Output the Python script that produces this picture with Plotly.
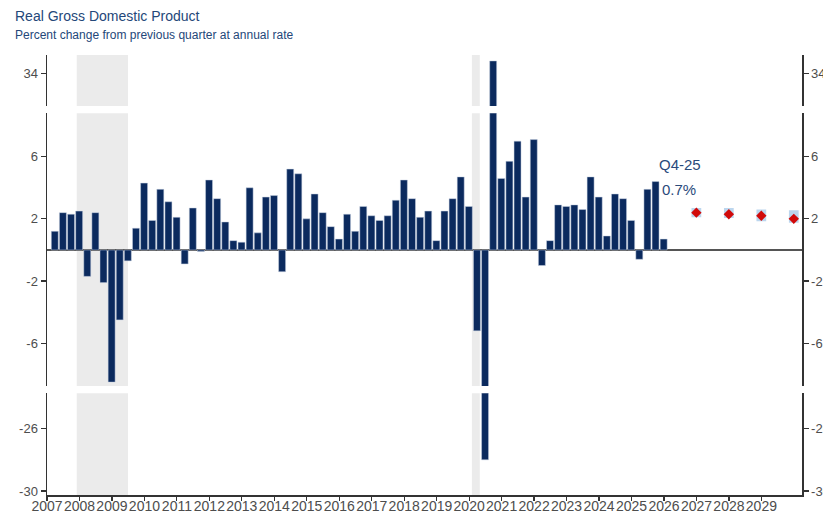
import plotly.graph_objects as go
from datetime import date

# ---------------- data ----------------
title_text = "Real Gross Domestic Product"
subtitle_text = "Percent change from previous quarter at annual rate"

years = list(range(2007, 2026))
gdp_growth = [
    1.2, 2.4, 2.3, 2.5,      # 2007
    -1.7, 2.4, -2.1, -8.5,   # 2008
    -4.5, -0.7, 1.4, 4.3,    # 2009
    1.9, 3.9, 3.1, 2.1,      # 2010
    -0.9, 2.7, -0.1, 4.5,    # 2011
    3.3, 1.8, 0.6, 0.5,      # 2012
    4.0, 1.1, 3.4, 3.5,      # 2013
    -1.4, 5.2, 4.9, 2.0,     # 2014
    3.6, 2.4, 1.5, 0.7,      # 2015
    2.3, 1.2, 2.8, 2.2,      # 2016
    1.9, 2.2, 3.2, 4.5,      # 2017
    3.3, 2.1, 2.5, 0.6,      # 2018
    2.5, 3.3, 4.7, 2.8,      # 2019
    -5.2, -28.0, 34.8, 4.6,  # 2020
    5.7, 7.0, 3.4, 7.1,      # 2021
    -1.0, 0.6, 2.9, 2.8,     # 2022
    2.9, 2.6, 4.7, 3.4,      # 2023
    0.9, 3.6, 3.3, 1.9,      # 2024
    -0.6, 3.9, 4.4, 0.7,     # 2025
]

recessions = [("2007-12-01", "2009-06-30"), ("2020-02-01", "2020-04-30")]

forecast_years = [2026, 2027, 2028, 2029]
forecast_median = [2.4, 2.3, 2.2, 2.0]
forecast_low = [2.1, 2.05, 1.85, 1.75]
forecast_high = [2.7, 2.7, 2.6, 2.55]

x_tick_years = list(range(2007, 2030))
ticks_top = [34]
ticks_mid = [-6, -2, 2, 6]
ticks_bot = [-30, -26]


# ---------------- helpers ----------------
def dec_year(s):
    d = date.fromisoformat(s)
    start = date(d.year, 1, 1)
    end = date(d.year + 1, 1, 1)
    return d.year + (d - start).days / (end - start).days


# quarter bars placed at quarter end
qx = [y + q * 0.25 - 0.01 for y in years for q in range(1, 5)]
fx = [dec_year(f"{y}-12-31") for y in forecast_years]

BAR = "#0b2a5e"
AXC = "#333333"
FONT = "Liberation Sans, Arial, sans-serif"
tick_font = dict(family=FONT, size=13, color="#4d4d4d")

rng_top = [31.9, 35.18]
rng_mid = [-8.75, 8.79]
rng_bot = [-30.26, -23.72]
dom_bot = [0.0, 0.2311]
dom_mid = [0.2477, 0.8675]
dom_top = [0.8841, 1.0]

fig = go.Figure()

for ax in ["y", "y2", "y3"]:
    fig.add_trace(go.Bar(
        x=qx, y=gdp_growth, yaxis=ax, width=0.215,
        marker=dict(color=BAR, line=dict(color="#c9d3e3", width=0.5)),
        hoverinfo="skip", showlegend=False,
    ))

fig.add_trace(go.Bar(
    x=fx, y=[h - l for h, l in zip(forecast_high, forecast_low)], base=forecast_low,
    yaxis="y2", width=0.3, marker=dict(color="#bcd6ee", line=dict(width=0)),
    hoverinfo="skip", showlegend=False,
))
fig.add_trace(go.Scatter(
    x=fx, y=forecast_median, yaxis="y2", mode="markers",
    marker=dict(symbol="diamond", size=8, color="#d10a0a", line=dict(width=0)),
    hoverinfo="skip", showlegend=False,
))

# invisible traces so the right-side axes are drawn
for ax, rng in [("y4", rng_bot), ("y5", rng_mid), ("y6", rng_top)]:
    fig.add_trace(go.Scatter(x=[qx[0]], y=[rng[0]], yaxis=ax, mode="markers",
                             marker=dict(opacity=0), hoverinfo="skip", showlegend=False))


def yax(domain, rng, ticks, side="left", overlaying=None, zero=False):
    d = dict(domain=domain, range=rng, tickvals=ticks, ticktext=[str(t) for t in ticks],
             ticks="outside", ticklen=5, tickwidth=1.2, tickcolor=AXC,
             showline=True, linecolor=AXC, linewidth=1.5, showgrid=False,
             zeroline=zero, zerolinecolor="#555555", zerolinewidth=1.5,
             tickfont=tick_font, anchor="x", side=side, fixedrange=True,
             automargin=False)
    if overlaying:
        d["overlaying"] = overlaying
    return d


shapes = []
for s, e in recessions:
    for yr in ["y domain", "y2 domain", "y3 domain"]:
        shapes.append(dict(type="rect", xref="x", yref=yr, x0=dec_year(s), x1=dec_year(e),
                           y0=0, y1=1, fillcolor="#ebebeb", line=dict(width=0), layer="below"))

last_label_q = f"Q4-{str(years[-1])[2:]}"
last_val = gdp_growth[-1]

annotations = [
    dict(text=title_text, xref="paper", yref="paper", x=-0.0446, y=1.0893,
         xanchor="left", yanchor="middle", showarrow=False,
         font=dict(family=FONT, size=14, color="#244779")),
    dict(text=subtitle_text, xref="paper", yref="paper", x=-0.0446, y=1.0455,
         xanchor="left", yanchor="middle", showarrow=False,
         font=dict(family=FONT, size=12, color="#244779")),
    dict(text=last_label_q, xref="x", yref="y2", x=qx[-1] - 0.2, y=5.47,
         xanchor="left", yanchor="middle", showarrow=False,
         font=dict(family=FONT, size=15, color="#2a4a7b")),
    dict(text=f"{last_val}%", xref="x", yref="y2", x=qx[-1] - 0.1, y=3.9,
         xanchor="left", yanchor="middle", showarrow=False,
         font=dict(family=FONT, size=15, color="#2a4a7b")),
]

fig.update_layout(
    width=823, height=513,
    margin=dict(l=47, r=21, t=55, b=18, pad=0, autoexpand=False),
    paper_bgcolor="white", plot_bgcolor="white",
    barmode="overlay", showlegend=False,
    xaxis=dict(domain=[0, 1], range=[2007.0, 2030.25], anchor="y",
               tickvals=x_tick_years, ticktext=[str(y) for y in x_tick_years],
               tickangle=0, ticks="outside", ticklen=4, tickwidth=1.2, tickcolor=AXC,
               ticklabelstandoff=-6,
               showline=True, linecolor=AXC, linewidth=1.5, showgrid=False, zeroline=False,
               tickfont=dict(family=FONT, size=14, color="#4d4d4d"), fixedrange=True,
               automargin=False),
    yaxis=yax(dom_bot, rng_bot, ticks_bot),
    yaxis2=yax(dom_mid, rng_mid, ticks_mid, zero=True),
    yaxis3=yax(dom_top, rng_top, ticks_top),
    yaxis4=yax(dom_bot, rng_bot, ticks_bot, side="right", overlaying="y"),
    yaxis5=yax(dom_mid, rng_mid, ticks_mid, side="right", overlaying="y2"),
    yaxis6=yax(dom_top, rng_top, ticks_top, side="right", overlaying="y3"),
    shapes=shapes,
    annotations=annotations,
)

fig.write_html(
    "out.html",
    config={"displayModeBar": False, "staticPlot": True},
    post_script="document.body.style.margin='0';document.body.style.overflow='hidden';",
)
